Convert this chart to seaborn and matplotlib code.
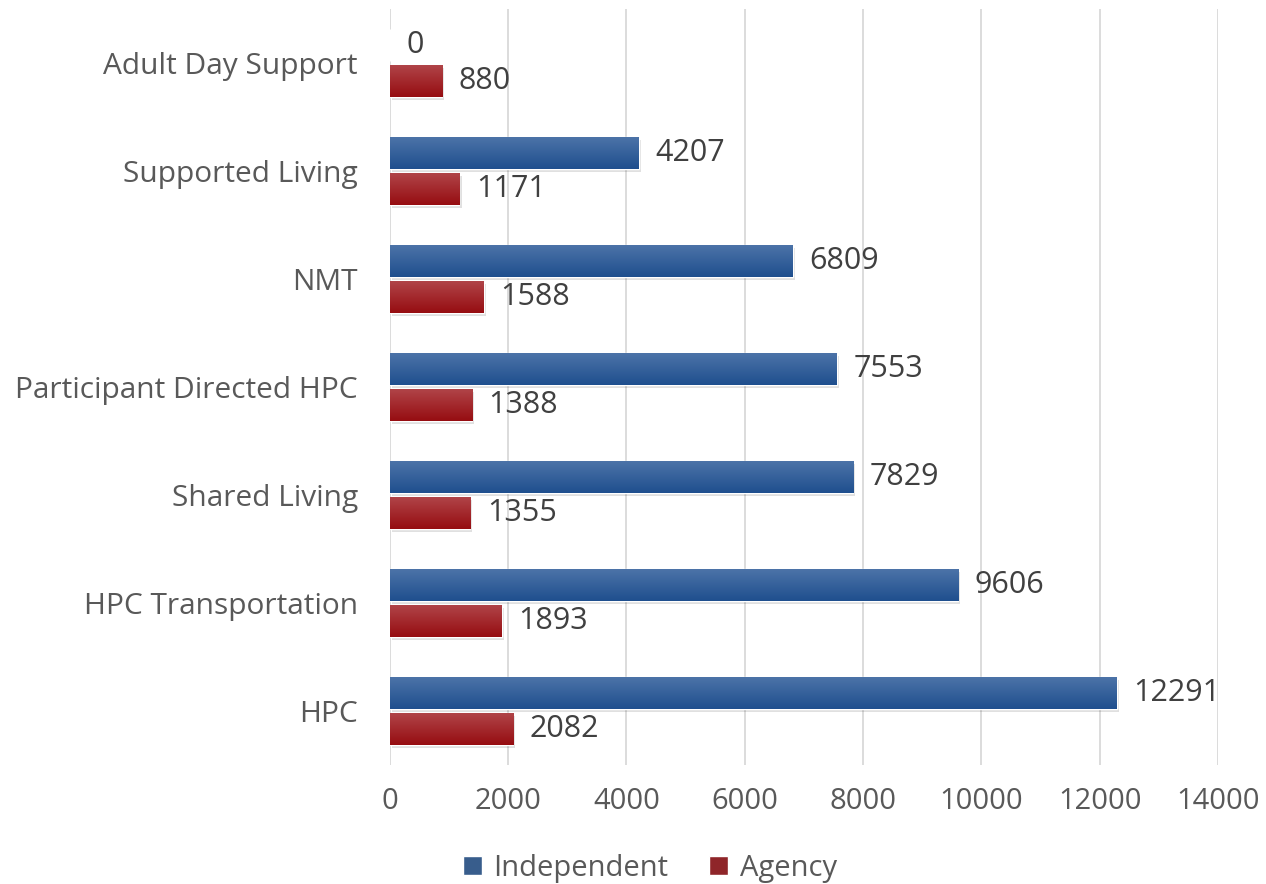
import numpy as np
import pandas as pd
import matplotlib
matplotlib.use("Agg")
import matplotlib.pyplot as plt
import matplotlib.colors as mcolors
import seaborn as sns

categories = ["Adult Day Support", "Supported Living", "NMT",
              "Participant Directed HPC", "Shared Living",
              "HPC Transportation", "HPC"]
independent = [0, 4207, 6809, 7553, 7829, 9606, 12291]
agency = [880, 1171, 1588, 1388, 1355, 1893, 2082]
series = ["Independent", "Agency"]
xticks = [0, 2000, 4000, 6000, 8000, 10000, 12000, 14000]

df = pd.DataFrame({
    "category": categories * 2,
    "value": independent + agency,
    "series": ["Independent"] * len(categories) + ["Agency"] * len(categories),
})

sns.set_style("white")
plt.rcParams["font.family"] = ["Open Sans", "DejaVu Sans"]

palette = {"Independent": "#2A5B9A", "Agency": "#A01419"}
grad = {"Independent": ("#4C73A8", "#1F4F8E"), "Agency": ("#B04448", "#960D11")}

fig = plt.figure(figsize=(12.66, 8.84), dpi=100)
ax = fig.add_axes([0.308, 0.135, 0.654, 0.855])

sns.barplot(data=df, y="category", x="value", hue="series", order=categories,
            hue_order=series, palette=palette, orient="h", width=0.67, gap=0.12,
            ax=ax, legend=True, zorder=3)

ax.set_xlim(0, 14000)
ax.set_xticks(xticks)
ax.set_xticklabels([str(t) for t in xticks])
ax.set_xlabel("")
ax.set_ylabel("")
ax.grid(axis="x", color="#D9D9D9", linewidth=1.3, zorder=0)
ax.set_axisbelow(True)
for s in ax.spines.values():
    s.set_visible(False)
ax.tick_params(axis="both", length=0, labelsize=21, colors="#595959")
ax.tick_params(axis="y", labelsize=21.5, pad=23)
ax.tick_params(axis="x", pad=16)

# vertical gradient fill and soft shadow on each bar
for cont, name in zip(ax.containers, series):
    top, bot = grad[name]
    cmap = mcolors.LinearSegmentedColormap.from_list(name, [top, bot])
    for rect in cont:
        x0, y0 = rect.get_x(), rect.get_y()
        w, h = rect.get_width(), rect.get_height()
        if w <= 0:
            continue
        sh = plt.Rectangle((x0 + 40, y0 + 0.03), w, h, facecolor="#000000",
                           alpha=0.12, edgecolor="none", zorder=2)
        ax.add_patch(sh)
        img = ax.imshow(np.linspace(0, 1, 64).reshape(-1, 1),
                        extent=[x0, x0 + w, y0 + h, y0], cmap=cmap,
                        aspect="auto", zorder=3.5, interpolation="bilinear")
        img.set_clip_path(rect)
    ax.bar_label(cont, labels=[str(int(v)) for v in cont.datavalues],
                 padding=12, fontsize=22, color="#404040")

ax.set_ylim(len(categories) - 0.5, -0.5)
ax.set_xlim(0, 14000)

leg = ax.legend(loc="center", bbox_to_anchor=(0.314, -0.137), ncol=2,
                frameon=False, fontsize=21, handlelength=0.65, handleheight=0.65,
                handletextpad=0.4, columnspacing=1.4, labelcolor="#595959",
                borderpad=0.1)

fig.savefig("out.png", dpi=100)
